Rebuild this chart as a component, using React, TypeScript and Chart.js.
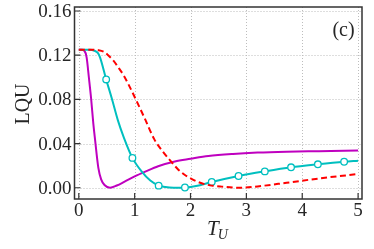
import React, { useEffect, useRef } from "react";
import { Chart, registerables } from "chart.js";

Chart.register(...registerables);

const magentaX = [0, 0.05, 0.1, 0.14, 0.18, 0.22, 0.26, 0.29, 0.35, 0.4, 0.46, 0.56, 0.68, 0.82, 1.0, 1.2, 1.42, 1.72, 2.0, 2.32, 2.76, 3.2, 3.72, 4.3, 5.0];
const magentaY = [0.125, 0.125, 0.124, 0.118, 0.1, 0.081, 0.058, 0.044, 0.018, 0.0075, 0.0025, 0.0, 0.002, 0.0055, 0.0102, 0.0148, 0.0195, 0.0238, 0.0262, 0.0287, 0.0306, 0.0318, 0.0326, 0.0331, 0.0337];

const cyanX = [0, 0.1, 0.2, 0.28, 0.34, 0.38, 0.49, 0.59, 0.7, 0.81, 0.96, 1.12, 1.28, 1.42, 1.55, 1.7, 1.9, 2.1, 2.38, 2.86, 3.33, 3.8, 4.28, 4.75, 5.0];
const cyanY = [0.125, 0.125, 0.125, 0.124, 0.122, 0.118, 0.098, 0.081, 0.061, 0.045, 0.027, 0.015, 0.0065, 0.0022, 0.0006, 0.0, 0.0002, 0.0015, 0.0052, 0.0106, 0.0148, 0.0185, 0.0212, 0.0235, 0.0244];

const markerX = [0.49, 0.96, 1.43, 1.9, 2.38, 2.86, 3.33, 3.8, 4.28, 4.75];
const markerY = [0.098, 0.027, 0.0019, 0.0002, 0.0052, 0.0106, 0.0148, 0.0185, 0.0212, 0.0235];

const redX = [0, 0.2, 0.35, 0.45, 0.525, 0.62, 0.7, 0.8, 0.88, 1.02, 1.18, 1.35, 1.5, 1.63, 1.77, 1.9, 2.05, 2.2, 2.4, 2.56, 2.89, 3.2, 3.72, 4.32, 5.0];
const redY = [0.125, 0.125, 0.1245, 0.123, 0.12, 0.115, 0.1095, 0.102, 0.0945, 0.08, 0.0628, 0.044, 0.033, 0.025, 0.017, 0.0115, 0.0072, 0.004, 0.0018, 0.001, 0.0, 0.0012, 0.0045, 0.0085, 0.0124];

const xTicks = [0, 1, 2, 3, 4, 5];
const yTicks = [0.0, 0.04, 0.08, 0.12, 0.16];

const FONT = "'Liberation Serif', 'DejaVu Serif', serif";

const zip = (xs: number[], ys: number[]) => xs.map((x, i) => ({ x, y: ys[i] }));

const gridPlugin = {
  id: "dotgrid",
  beforeDraw(chart: any) {
    const { ctx } = chart;
    ctx.save();
    ctx.fillStyle = "#fff";
    ctx.fillRect(0, 0, chart.width, chart.height);
    ctx.restore();
  },
  beforeDatasetsDraw(chart: any) {
    const { ctx, chartArea: a, scales } = chart;
    ctx.save();
    ctx.strokeStyle = "#bdbdbd";
    ctx.lineWidth = 1;
    ctx.setLineDash([1, 2]);
    ctx.beginPath();
    xTicks.forEach((t) => {
      const px = Math.round(scales.x.getPixelForValue(t)) + 0.5;
      ctx.moveTo(px, a.top);
      ctx.lineTo(px, a.bottom);
    });
    yTicks.forEach((t) => {
      const py = Math.round(scales.y.getPixelForValue(t)) + 0.5;
      ctx.moveTo(a.left, py);
      ctx.lineTo(a.right, py);
    });
    ctx.stroke();
    ctx.restore();
  },
};

const decor = {
  id: "decor",
  afterDraw(chart: any) {
    const { ctx, chartArea: a, scales } = chart;
    const xs = scales.x;
    const ys = scales.y;
    ctx.save();
    ctx.strokeStyle = "#333";
    ctx.lineWidth = 1.2;
    ctx.beginPath();
    xTicks.forEach((t) => {
      const px = xs.getPixelForValue(t);
      ctx.moveTo(px, a.bottom);
      ctx.lineTo(px, a.bottom - 6);
    });
    yTicks.forEach((t) => {
      const py = ys.getPixelForValue(t);
      ctx.moveTo(a.left, py);
      ctx.lineTo(a.left + 6, py);
    });
    ctx.stroke();
    ctx.strokeStyle = "#333";
    ctx.lineWidth = 1.5;
    ctx.strokeRect(a.left, a.top, a.right - a.left, a.bottom - a.top);
    ctx.fillStyle = "#262626";
    ctx.font = `19px ${FONT}`;
    ctx.textAlign = "center";
    ctx.textBaseline = "top";
    xTicks.forEach((t) => {
      ctx.fillText(String(t), xs.getPixelForValue(t), a.bottom + 3);
    });
    ctx.textAlign = "right";
    ctx.textBaseline = "middle";
    yTicks.forEach((t) => {
      ctx.fillText(t.toFixed(2), a.left - 3, ys.getPixelForValue(t) + 1);
    });
    ctx.save();
    ctx.translate(24, 104);
    ctx.rotate(-Math.PI / 2);
    ctx.textAlign = "center";
    ctx.textBaseline = "middle";
    ctx.font = `20px ${FONT}`;
    ctx.fillText("LQU", 0, 0);
    ctx.restore();
    ctx.textAlign = "left";
    ctx.textBaseline = "alphabetic";
    ctx.font = `italic 21px ${FONT}`;
    ctx.fillText("T", 207, 235);
    const tw = ctx.measureText("T").width;
    ctx.font = `italic 14px ${FONT}`;
    ctx.fillText("U", 207 + tw - 1, 239);
    ctx.font = `20px ${FONT}`;
    ctx.textAlign = "center";
    ctx.textBaseline = "middle";
    ctx.fillText("(c)", 343.5, 31);
    ctx.restore();
  },
};

export default function App() {
  const ref = useRef<HTMLCanvasElement>(null);
  useEffect(() => {
    document.body.style.margin = "0";
    const chart = new Chart(ref.current!, {
      type: "line",
      data: {
        datasets: [
          {
            data: zip(magentaX, magentaY),
            borderColor: "#bf00bf",
            borderWidth: 2,
            pointRadius: 0,
            cubicInterpolationMode: "monotone",
            fill: false,
            order: 4,
          },
          {
            data: zip(cyanX, cyanY),
            borderColor: "#00bfbf",
            borderWidth: 2,
            pointRadius: 0,
            cubicInterpolationMode: "monotone",
            fill: false,
            order: 3,
          },
          {
            data: zip(markerX, markerY),
            showLine: false,
            borderColor: "#00bfbf",
            backgroundColor: "#ffffff",
            pointRadius: 3.3,
            pointBorderWidth: 1.3,
            order: 2,
          },
          {
            data: zip(redX, redY),
            borderColor: "#ff0000",
            borderWidth: 2,
            borderDash: [6, 3.5],
            pointRadius: 0,
            cubicInterpolationMode: "monotone",
            fill: false,
            order: 1,
          },
        ],
      },
      options: {
        animation: false,
        responsive: false,
        devicePixelRatio: 1,
        layout: { padding: { left: 0, right: 12, top: 7, bottom: 0 } },
        plugins: { legend: { display: false }, tooltip: { enabled: false } },
        scales: {
          x: {
            type: "linear",
            min: -0.077,
            max: 5.07,
            afterFit: (s: any) => {
              s.height = 50;
            },
            ticks: { display: false, stepSize: 1, includeBounds: false },
            border: { display: false },
            grid: { display: false },
          },
          y: {
            type: "linear",
            min: -0.0102,
            max: 0.1636,
            afterFit: (s: any) => {
              s.width = 74.5;
            },
            ticks: { display: false, stepSize: 0.04, includeBounds: false },
            border: { display: false },
            grid: { display: false },
          },
        },
      },
      plugins: [gridPlugin, decor],
    });
    return () => chart.destroy();
  }, []);
  return (
    <div style={{ width: 374, height: 249 }}>
      <canvas ref={ref} width={374} height={249} style={{ display: "block" }} />
    </div>
  );
}
